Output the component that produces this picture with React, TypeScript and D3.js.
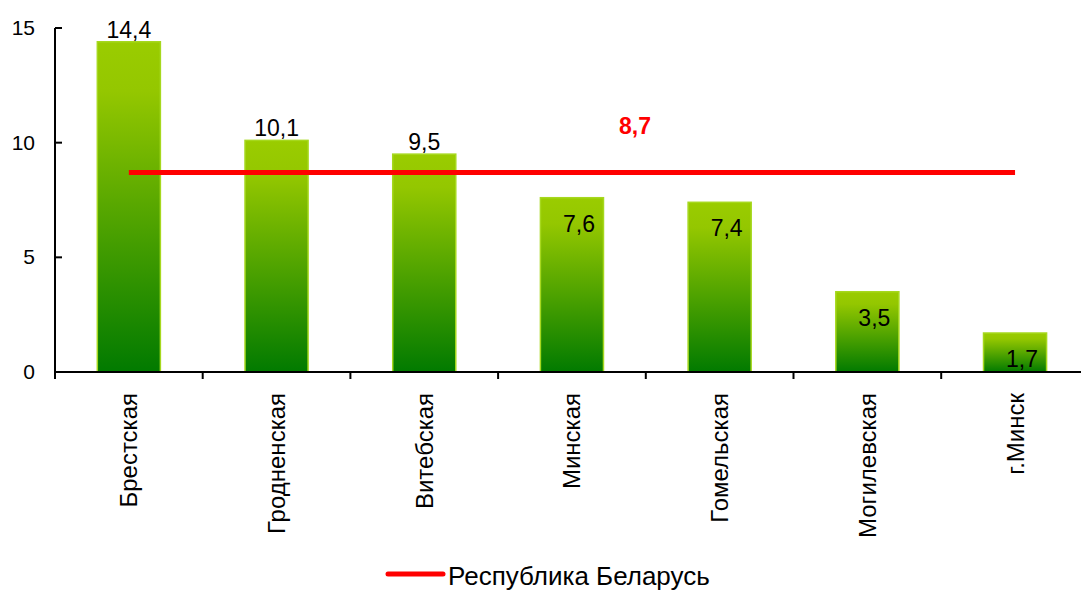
import React, { useEffect, useRef } from 'react';
import * as d3 from 'd3';

const regions = ['Брестская', 'Гродненская', 'Витебская', 'Минская', 'Гомельская', 'Могилевская', 'г.Минск'];
const values = [14.4, 10.1, 9.5, 7.6, 7.4, 3.5, 1.7];
const republicValue = 8.7;
const republicName = 'Республика Беларусь';
const yTicks = [0, 5, 10, 15];

const fmt = (v: number) => v.toFixed(1).replace('.', ',');

const App: React.FC = () => {
  const svgRef = useRef<SVGSVGElement>(null);

  useEffect(() => {
    if (!svgRef.current) return;
    const width = 1081;
    const height = 590;
    const svg = d3.select(svgRef.current);
    svg.selectAll('*').remove();
    svg.attr('width', width).attr('height', height);

    const font = 'Liberation Sans, Arial, sans-serif';
    const left = 55;
    const step = 147.7;

    const x = d3.scaleBand<string>()
      .domain(regions)
      .range([left, left + step * regions.length])
      .paddingInner(0.573)
      .paddingOuter(0.2865);

    const y = d3.scaleLinear().domain([0, 15]).range([372, 28]);

    // gradient for bars
    const defs = svg.append('defs');
    const grad = defs.append('linearGradient')
      .attr('id', 'barGrad')
      .attr('x1', 0).attr('y1', 0).attr('x2', 0).attr('y2', 1);
    grad.append('stop').attr('offset', '0%').attr('stop-color', '#9acc00');
    grad.append('stop').attr('offset', '15%').attr('stop-color', '#94c700');
    grad.append('stop').attr('offset', '100%').attr('stop-color', '#017a00');

    // bars
    svg.append('g')
      .selectAll('rect')
      .data(values)
      .enter()
      .append('rect')
      .attr('x', (_, i) => x(regions[i])!)
      .attr('y', d => y(d))
      .attr('width', x.bandwidth())
      .attr('height', d => y(0) - y(d))
      .attr('fill', 'url(#barGrad)')
      .attr('stroke', '#a6d81e')
      .attr('stroke-width', 1.5);

    // y axis
    const yAxis = svg.append('g');
    yAxis.append('line')
      .attr('x1', left).attr('x2', left)
      .attr('y1', y(15)).attr('y2', y(0))
      .attr('stroke', '#000').attr('stroke-width', 2);
    yTicks.forEach(t => {
      yAxis.append('line')
        .attr('x1', left).attr('x2', left + 7)
        .attr('y1', y(t)).attr('y2', y(t))
        .attr('stroke', '#000').attr('stroke-width', 2);
      yAxis.append('text')
        .attr('x', 35).attr('y', y(t) + 7)
        .attr('text-anchor', 'end')
        .style('font-family', font)
        .style('font-size', '21px')
        .text(t);
    });

    // x axis
    const xAxis = svg.append('g');
    xAxis.append('line')
      .attr('x1', left).attr('x2', width)
      .attr('y1', y(0)).attr('y2', y(0))
      .attr('stroke', '#000').attr('stroke-width', 2);
    d3.range(regions.length + 1).forEach(i => {
      const xx = left + i * x.step();
      xAxis.append('line')
        .attr('x1', xx).attr('x2', xx)
        .attr('y1', y(0)).attr('y2', y(0) + 7)
        .attr('stroke', '#000').attr('stroke-width', 2);
    });
    regions.forEach(r => {
      const cx = x(r)! + x.bandwidth() / 2;
      xAxis.append('text')
        .attr('transform', `translate(${cx + 8.5},393) rotate(-90)`)
        .attr('text-anchor', 'end')
        .style('font-family', font)
        .style('font-size', '24px')
        .text(r);
    });

    // data labels
    svg.append('g')
      .selectAll('text')
      .data(values)
      .enter()
      .append('text')
      .attr('x', (d, i) => x(regions[i])! + x.bandwidth() / 2 + (d >= 9 ? 0 : 7))
      .attr('y', d => (d >= 9 ? y(d) - 4 : y(d) + 34))
      .attr('text-anchor', 'middle')
      .style('font-family', font)
      .style('font-size', '23px')
      .text(d => fmt(d));

    // republic average line
    const cFirst = x(regions[0])! + x.bandwidth() / 2;
    const cLast = x(regions[regions.length - 1])! + x.bandwidth() / 2;
    svg.append('line')
      .attr('x1', cFirst).attr('x2', cLast)
      .attr('y1', y(republicValue)).attr('y2', y(republicValue))
      .attr('stroke', '#ff0000')
      .attr('stroke-width', 5);
    svg.append('text')
      .attr('x', 635).attr('y', 134)
      .attr('text-anchor', 'middle')
      .style('font-family', font)
      .style('font-size', '23px')
      .style('font-weight', 'bold')
      .attr('fill', '#ff0000')
      .text(fmt(republicValue));

    // legend
    const legend = svg.append('g');
    legend.append('line')
      .attr('x1', 388).attr('x2', 443)
      .attr('y1', 574).attr('y2', 574)
      .attr('stroke', '#ff0000')
      .attr('stroke-width', 5)
      .attr('stroke-linecap', 'round');
    legend.append('text')
      .attr('x', 448).attr('y', 585)
      .style('font-family', font)
      .style('font-size', '26px')
      .text(republicName);
  }, []);

  return (
    <svg
      ref={svgRef}
      style={{ position: 'absolute', left: 0, top: 0, background: '#fff' }}
    />
  );
};

export default App;
